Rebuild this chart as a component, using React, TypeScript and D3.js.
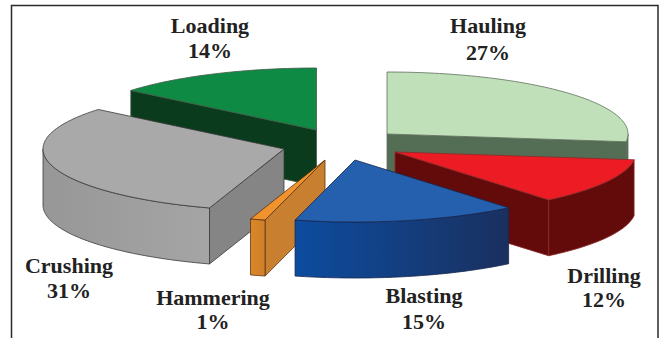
import React from "react";
import * as d3 from "d3";

const WIDTH = 664;
const HEIGHT = 338;

// Activities and their share of the total, clockwise from twelve o'clock.
const categories = ["Hauling", "Drilling", "Blasting", "Hammering", "Crushing", "Loading"];
const shares = [27, 12, 15, 1, 31, 14];

// Where each exploded wedge's apex ends up on the page.
const apexX = [387, 395, 355, 325, 284, 316.5];
const apexY = [134, 152, 160, 160, 149, 130];

// Face colours per wedge.
const topColors = ["#bfe0b9", "#ed1c24", "#2560ae", "#f0922e", "#a9a9a9", "#0f8a45"];
const cutColors = ["#546d55", "#630b0b", "#1a3f80", "#c97f30", "#858585", "#0a3b1c"];
const rimStops = [
  ["#546d55", "#546d55"],
  ["#630b0b", "#630b0b"],
  ["#0d4c9f", "#1a305f"],
  ["#db872a", "#d07f28"],
  ["#979797", "#a5a5a5"],
  ["#0a3b1c", "#0a3b1c"],
];
const edgeColors = ["#5f6f5c", "#8e2a2a", "#16264f", "#5a3510", "#3a3a3a", "#3d5a45"];

// Back-to-front painting order, as indexes into categories.
const paintOrder = [5, 0, 4, 3, 1, 2];

// Label text blocks: centre x, baseline of the name, baseline of the percentage.
const labelX = [488, 604, 424, 213, 69, 210];
const nameBaseline = [33, 283, 303, 305, 273, 33];
const valueBaseline = [60, 307, 329, 329, 298, 58];

const RX = 241;
const RY = 62;
const DEPTH = 56;

const pie = d3.pie<number>().sort(null).startAngle(0).endAngle(2 * Math.PI);
const wedges = pie(shares);
const outline = d3.line<[number, number]>();

function rimPoint(i: number, angle: number, drop = 0): [number, number] {
  return [apexX[i] + RX * Math.sin(angle), apexY[i] - RY * Math.cos(angle) + drop];
}

function sampleAngles(a0: number, a1: number): number[] {
  const steps = Math.max(2, Math.ceil((a1 - a0) / 0.02));
  return d3.range(steps + 1).map((k) => a0 + ((a1 - a0) * k) / steps);
}

function topPath(i: number): string {
  const w = wedges[i];
  const arc = sampleAngles(w.startAngle, w.endAngle).map((a) => rimPoint(i, a));
  return outline([[apexX[i], apexY[i]], ...arc])! + "Z";
}

function cutPath(i: number, angle: number): string {
  const p = rimPoint(i, angle);
  return (
    outline([
      [apexX[i], apexY[i]],
      p,
      [p[0], p[1] + DEPTH],
      [apexX[i], apexY[i] + DEPTH],
    ])! + "Z"
  );
}

// The outer wall only shows on the front half of the ellipse.
function rimPath(i: number): string | null {
  const w = wedges[i];
  const a0 = Math.max(w.startAngle, Math.PI / 2);
  const a1 = Math.min(w.endAngle, (3 * Math.PI) / 2);
  if (a1 <= a0) return null;
  const angles = sampleAngles(a0, a1);
  const upper = angles.map((a) => rimPoint(i, a));
  const lower = angles.map((a) => rimPoint(i, a, DEPTH)).reverse();
  return outline([...upper, ...lower])! + "Z";
}

function rimExtent(i: number): [number, number] {
  const w = wedges[i];
  const a0 = Math.max(w.startAngle, Math.PI / 2);
  const a1 = Math.min(w.endAngle, (3 * Math.PI) / 2);
  const xs = sampleAngles(a0, Math.max(a0, a1)).map((a) => rimPoint(i, a)[0]);
  return [d3.min(xs)!, d3.max(xs)!];
}

function Wedge({ i }: { i: number }) {
  const w = wedges[i];
  const edge = edgeColors[i];
  const rim = rimPath(i);
  const startShows = w.startAngle > Math.PI && w.startAngle < 2 * Math.PI;
  const endShows = w.endAngle > 0 && w.endAngle < Math.PI;
  const stroke = { stroke: edge, strokeWidth: 0.8, strokeLinejoin: "round" as const };
  return (
    <g>
      {startShows && <path d={cutPath(i, w.startAngle)} fill={cutColors[i]} {...stroke} />}
      {endShows && <path d={cutPath(i, w.endAngle)} fill={cutColors[i]} {...stroke} />}
      {rim && <path d={rim} fill={`url(#rim-${i})`} {...stroke} />}
      <path d={topPath(i)} fill={topColors[i]} {...stroke} />
    </g>
  );
}

export default function App() {
  return (
    <svg
      width={WIDTH}
      height={HEIGHT}
      viewBox={`0 0 ${WIDTH} ${HEIGHT}`}
      style={{ position: "absolute", left: 0, top: 0, display: "block", background: "#fff" }}
    >
      <defs>
        {categories.map((_, i) => {
          const [x0, x1] = rimExtent(i);
          return (
            <linearGradient
              key={i}
              id={`rim-${i}`}
              gradientUnits="userSpaceOnUse"
              x1={x0}
              x2={x1}
              y1={0}
              y2={0}
            >
              <stop offset="0" stopColor={rimStops[i][0]} />
              <stop offset="1" stopColor={rimStops[i][1]} />
            </linearGradient>
          );
        })}
      </defs>

      {/* Frame: open at the bottom, where it runs off the page */}
      <path
        d={`M11.5,${HEIGHT} V5.5 H658 V${HEIGHT}`}
        fill="none"
        stroke="#2a2a2a"
        strokeWidth={1.5}
      />

      {paintOrder.map((i) => (
        <Wedge key={categories[i]} i={i} />
      ))}

      <g
        fontFamily="'Liberation Serif', serif"
        fontWeight="bold"
        fontSize={22}
        fill="#222"
        textAnchor="middle"
      >
        {categories.map((name, i) => (
          <g key={name}>
            <text x={labelX[i]} y={nameBaseline[i]}>
              {name}
            </text>
            <text x={labelX[i]} y={valueBaseline[i]}>
              {shares[i]}%
            </text>
          </g>
        ))}
      </g>
    </svg>
  );
}
